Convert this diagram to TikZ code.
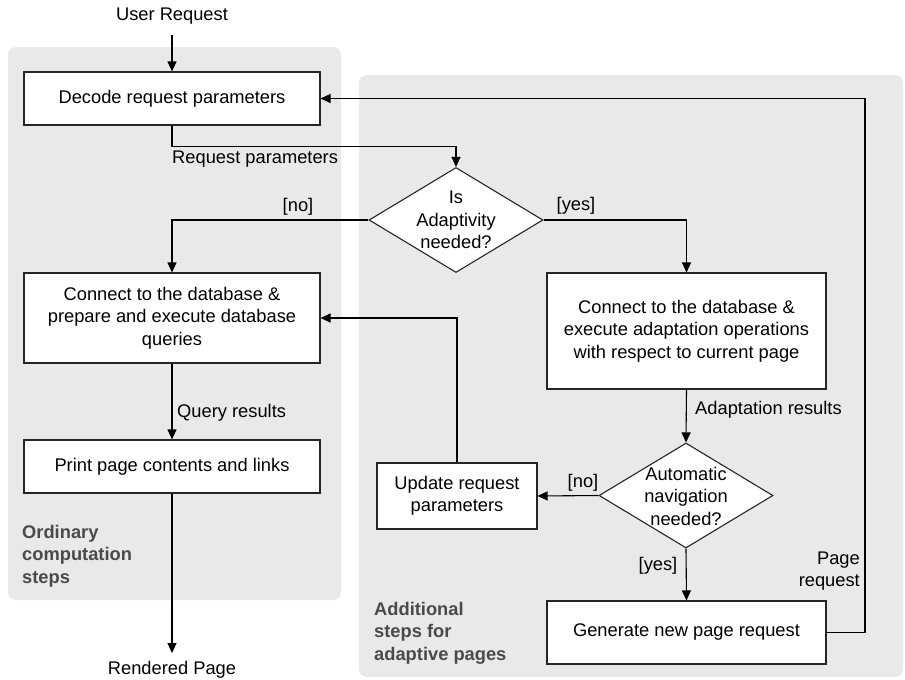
\documentclass[tikz,border=0pt]{standalone}
\usepackage{fontspec}
\setmainfont{Liberation Sans}
\usetikzlibrary{arrows.meta,shapes.geometric,positioning}
\definecolor{panelgray}{HTML}{E9E9E9}
\definecolor{labgray}{HTML}{4A4A4A}
\newcommand{\diafont}{\fontsize{18.3pt}{22.5pt}\selectfont}
\tikzset{
  box/.style={draw=black!85, fill=white, line width=1.1pt, align=center, inner sep=0pt},
  dmd/.style={draw=black!85, fill=white, line width=1.1pt, diamond, inner sep=0pt, minimum width=174pt, minimum height=105pt},
  txt/.style={inner sep=0pt, align=center},
  arr/.style={line width=1.1pt, -{Triangle[length=10pt,width=9pt]}},
  panel/.style={fill=panelgray, rounded corners=8pt},
  grouplab/.style={inner sep=0pt, align=left, font=\diafont\bfseries, text=labgray}
}
\begin{document}
\begin{tikzpicture}[x=1pt,y=-1pt, font=\diafont]
\useasboundingbox (0,0) rectangle (905,680);
% panels
\fill[panel] (8,47) rectangle (341,600);
\fill[panel] (359,75) rectangle (903,677);
% nodes
\node[txt] (user) at (172,16) {User Request};
\node[box, minimum width=296pt, minimum height=53pt] (decode) at (172,98.5) {Decode request parameters};
\node[dmd] (d1) at (456,220) {};
\node[txt] (d1t) at (456,220) {Is\\Adaptivity\\needed?};
\node[box, minimum width=296pt, minimum height=90pt] (conn) at (172,318) {Connect to the database \&\\prepare and execute database\\queries};
\node[box, minimum width=279pt, minimum height=116pt] (adapt) at (686.5,331) {Connect to the database \&\\execute adaptation operations\\with respect to current page};
\node[box, minimum width=296pt, minimum height=53pt] (print) at (172,466.5) {Print page contents and links};
\node[dmd] (d2) at (686,495.5) {};
\node[txt] (d2t) at (686,496) {Automatic\\navigation\\needed?};
\node[box, minimum width=160pt, minimum height=66pt] (update) at (457,496) {Update request\\parameters};
\node[box, minimum width=279pt, minimum height=63pt] (gen) at (686.5,632.5) {Generate new page request};
\node[txt] (rendered) at (172,670) {Rendered Page};
\coordinate (rendtip) at (172,653);
\coordinate (usertail) at (172,35);
\node[grouplab, anchor=west] (ord) at (22,556) {Ordinary\\computation\\steps};
\node[grouplab, anchor=west] (add) at (374,633) {Additional\\steps for\\adaptive pages};
% edges
\draw[arr] (usertail) -- (decode.north);
\draw[arr] (decode.south) -- ++(0,21) -| (d1.north);
\node[txt, anchor=west] (lreq) at (172,159) {Request parameters};
\draw[arr] (d1.west) -| (conn.north);
\node[txt] (lno1) at (298,207) {[no]};
\draw[arr] (d1.east) -| (adapt.north);
\node[txt] (lyes1) at (576,206) {[yes]};
\draw[arr] (conn.south) -- (print.north);
\node[txt, anchor=west] (lqr) at (177,413) {Query results};
\draw[arr] (print.south) -- (rendtip);
\draw[arr] (adapt.south) -- (d2.north);
\node[txt, anchor=west] (lar) at (695,410) {Adaptation results};
\draw[arr] (d2.west) -- (update.east);
\node[txt] (lno2) at (583,483) {[no]};
\draw[arr] (d2.south) -- (gen.north);
\node[txt] (lyes2) at (658,566) {[yes]};
\draw[arr] (update.north) |- (conn.east);
\coordinate (back) at (865,632.5);
\draw[arr] (gen.east) -- (back) |- (decode.east);
\node[txt, align=right, anchor=east] (lpr) at (860,571) {Page\\request};
\end{tikzpicture}
\end{document}
